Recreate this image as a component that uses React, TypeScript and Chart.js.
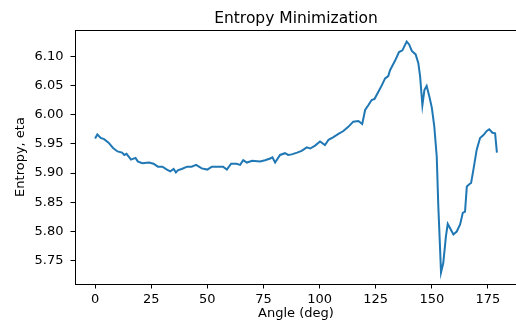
import React, { useEffect, useRef } from "react";
import { Chart, registerables } from "chart.js";

Chart.register(...registerables);

const angles = [
  0, 1, 2.5, 4, 6, 8, 10, 12, 13, 14, 16, 18, 19, 21, 24, 26, 28, 30, 32, 33.5,
  35, 36, 37, 38.6, 41, 43, 45, 47.5, 50, 52, 55, 57, 58.7, 60.6, 63, 64.6, 66,
  67.6, 70, 73.5, 75.7, 78, 79, 80.2, 82.4, 84.6, 86, 87.6, 90, 92, 94.3, 95.8,
  98, 100.2, 102.4, 104, 106, 108.4, 110.6, 112.8, 115, 117.3, 119, 120.3,
  121.7, 123.2, 124.5, 126.2, 127.7, 129.2, 130.6, 131.4, 133.6, 135.4, 136.9,
  138.8, 139.9, 141.1, 142.8, 144, 144.8, 145.8, 146.7, 147.7, 148.9, 150,
  151.1, 152.2, 152.9, 153.7, 154.1, 155.1, 156.3, 157.1, 158.1, 159.6, 161.1,
  162.6, 163.8, 164.8, 165.6, 166.7, 167.5, 168.5, 170, 171.5, 173, 174.5,
  175.6, 177, 178.2, 179,
];

const entropy = [
  5.959, 5.966, 5.96, 5.958, 5.952, 5.943, 5.937, 5.935, 5.931, 5.933, 5.923,
  5.926, 5.92, 5.917, 5.918, 5.916, 5.911, 5.911, 5.906, 5.903, 5.907, 5.901,
  5.905, 5.907, 5.911, 5.911, 5.914, 5.908, 5.906, 5.911, 5.911, 5.911, 5.906,
  5.916, 5.916, 5.914, 5.922, 5.918, 5.921, 5.92, 5.922, 5.925, 5.927, 5.918,
  5.931, 5.934, 5.931, 5.932, 5.935, 5.938, 5.944, 5.942, 5.947, 5.954, 5.948,
  5.957, 5.961, 5.967, 5.972, 5.979, 5.988, 5.989, 5.984, 6.008, 6.016, 6.025,
  6.027, 6.039, 6.05, 6.062, 6.066, 6.076, 6.092, 6.107, 6.11, 6.125, 6.12,
  6.109, 6.103, 6.088, 6.065, 6.016, 6.042, 6.049, 6.031, 6.012, 5.98, 5.928,
  5.843, 5.769, 5.73, 5.746, 5.792, 5.813, 5.806, 5.795, 5.8, 5.812, 5.832,
  5.834, 5.877, 5.881, 5.883, 5.905, 5.94, 5.96, 5.965, 5.972, 5.975, 5.969,
  5.968, 5.935,
];

const xTicks = [0, 25, 50, 75, 100, 125, 150, 175];
const yTicks = [5.75, 5.8, 5.85, 5.9, 5.95, 6.0, 6.05, 6.1];

const titleText = "Entropy Minimization";
const xLabel = "Angle (deg)";
const yLabel = "Entropy, eta";

const FONT = "'DejaVu Sans', sans-serif";

export default function App() {
  const ref = useRef<HTMLCanvasElement | null>(null);

  useEffect(() => {
    if (!ref.current) return;
    const xMin = angles[0], xMax = angles[angles.length - 1];
    const xm = (xMax - xMin) * 0.05;
    const yMinV = Math.min(...entropy), yMaxV = Math.max(...entropy);
    const ym = (yMaxV - yMinV) * 0.05;

    const decor = {
      id: "decor",
      afterDraw(chart: any) {
        const ctx = chart.ctx;
        const ca = chart.chartArea;
        ctx.save();
        ctx.strokeStyle = "#000";
        ctx.lineWidth = 1;
        ctx.strokeRect(ca.left + 0.5, ca.top + 0.5, ca.right - ca.left, ca.bottom - ca.top);
        ctx.fillStyle = "#000";
        ctx.textAlign = "center";
        ctx.textBaseline = "middle";
        const cx = (ca.left + ca.right) / 2;
        ctx.font = `15.5px ${FONT}`;
        ctx.fillText(titleText, cx, 19);
        ctx.font = `13px ${FONT}`;
        ctx.fillText(xLabel, cx, 314);
        ctx.translate(21, (ca.top + ca.bottom) / 2);
        ctx.rotate(-Math.PI / 2);
        ctx.fillText(yLabel, 0, 0);
        ctx.restore();
      },
    };

    const chart = new Chart(ref.current, {
      type: "line",
      data: {
        datasets: [
          {
            data: angles.map((a, i) => ({ x: a, y: entropy[i] })),
            borderColor: "#1f77b4",
            borderWidth: 2,
            pointRadius: 0,
            tension: 0,
            fill: false,
          },
        ],
      },
      options: {
        animation: false,
        responsive: false,
        devicePixelRatio: 1,
        layout: { padding: { top: 30, right: 15, left: 0, bottom: 0 } },
        plugins: { legend: { display: false }, tooltip: { enabled: false }, title: { display: false } },
        scales: {
          x: {
            type: "linear",
            min: xMin - xm,
            max: xMax + xm,
            afterBuildTicks: (s: any) => {
              s.ticks = xTicks.map((v) => ({ value: v }));
            },
            afterFit: (s: any) => {
              s.height = 38;
            },
            ticks: {
              autoSkip: false,
              maxRotation: 0,
              padding: 3,
              color: "#000",
              font: { family: FONT, size: 13 },
              callback: (v: any) => String(v),
            },
            grid: { drawOnChartArea: false, drawTicks: true, tickLength: 4.5, color: "#000" },
            border: { display: true, color: "#000", width: 1 },
          },
          y: {
            type: "linear",
            min: yMinV - ym,
            max: yMaxV + ym,
            afterBuildTicks: (s: any) => {
              s.ticks = yTicks.map((v) => ({ value: v }));
            },
            afterFit: (s: any) => {
              s.width = 75;
            },
            ticks: {
              autoSkip: false,
              padding: 7,
              color: "#000",
              font: { family: FONT, size: 13 },
              callback: (v: any) => Number(v).toFixed(2),
            },
            grid: { drawOnChartArea: false, drawTicks: true, tickLength: 4.5, color: "#000" },
            border: { display: true, color: "#000", width: 1 },
          },
        },
      },
      plugins: [decor],
    });
    return () => chart.destroy();
  }, []);

  return (
    <div style={{ position: "absolute", left: 0, top: 0, width: 516, height: 322, overflow: "hidden", background: "#fff" }}>
      <canvas ref={ref} width={532} height={322} style={{ width: 532, height: 322, display: "block" }} />
    </div>
  );
}
